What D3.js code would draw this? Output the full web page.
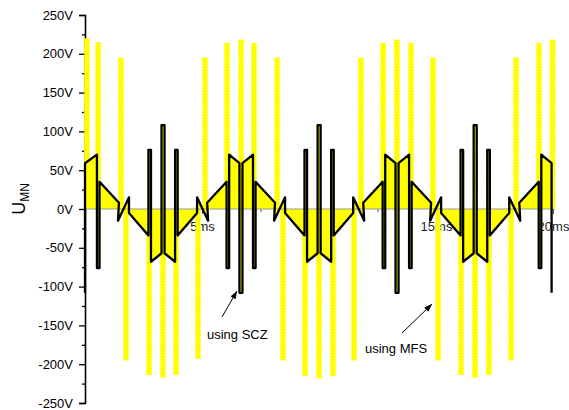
<!DOCTYPE html>
<html lang="en">
<head>
<meta charset="UTF-8">
<title>U_MN</title>
<style>
  body { margin: 0; background: #fff; }
  svg { display: block; font-family: Arial, "Liberation Sans", sans-serif; }
</style>
</head>
<body>
<div id="chart"></div>
<script src="https://cdn.jsdelivr.net/npm/d3@7/dist/d3.min.js"></script>
<script>
// SCZ waveform (black line): time in ms, voltage in V
const sczT = [0, 0,
  0.51, 0.51, 0.62, 0.62, 1.45, 1.41, 1.88, 1.88, 2.71, 2.71, 2.82, 2.82,
  3.27, 3.27, 3.40, 3.40, 3.85, 3.85, 3.96, 3.96, 4.79, 4.79, 5.26, 5.22,
  6.05, 6.05, 6.16, 6.16, 6.60, 6.60, 6.73, 6.73,
  7.18, 7.18, 7.29, 7.29, 8.12, 8.08, 8.55, 8.55, 9.38, 9.38, 9.49, 9.49,
  9.94, 9.94, 10.07, 10.07, 10.52, 10.52, 10.63, 10.63, 11.46, 11.46, 11.93, 11.89,
  12.72, 12.72, 12.83, 12.83, 13.27, 13.27, 13.40, 13.40,
  13.85, 13.85, 13.96, 13.96, 14.79, 14.75, 15.22, 15.22, 16.05, 16.05, 16.16, 16.16,
  16.61, 16.61, 16.74, 16.74, 17.19, 17.19, 17.30, 17.30, 18.13, 18.13, 18.60, 18.56,
  19.39, 19.39, 19.50, 19.50, 19.94, 19.94];
const sczV = [-108, 59,
  70, -76, -76, 35, 8, -15, 15, -5, -34, 76, 76, -68,
  -57, 108, 108, -57, -68, 76, 76, -34, -5, 15, -15, 8,
  35, -76, -76, 70, 59, -108, -108, 59,
  70, -76, -76, 35, 8, -15, 15, -5, -34, 76, 76, -68,
  -57, 108, 108, -57, -68, 76, 76, -34, -5, 15, -15, 8,
  35, -76, -76, 70, 59, -108, -108, 59,
  70, -76, -76, 35, 8, -15, 15, -5, -34, 76, 76, -68,
  -57, 108, 108, -57, -68, 76, 76, -34, -5, 15, -15, 8,
  35, -76, -76, 70, 59, -108];

// MFS pulses (yellow bars)
const mfsT = [0.08, 0.56, 1.54, 1.75, 2.74, 3.33, 3.89, 4.83,
  5.13, 6.07, 6.67, 7.22, 8.21, 8.46, 9.40, 10.0, 10.60, 11.50,
  11.79, 12.74, 13.33, 13.93, 14.87, 15.09, 16.07, 16.67, 17.26, 18.21,
  18.42, 19.40, 19.98];
const mfsV = [220, 215, 195, -195, -214, -217, -214, -193,
  195, 214, 218, 214, 195, -195, -215, -218, -215, -195,
  195, 214, 218, 214, 195, -195, -214, -217, -214, -195,
  195, 214, 218];

const yTicks = [-250, -200, -150, -100, -50, 0, 50, 100, 150, 200, 250];
const yMinor = [-225, -175, -125, -75, -25, 25, 75, 125, 175, 225];
const xTicks = [5, 10, 15, 20];
const xMinor = [2.5, 7.5, 12.5, 17.5];

const width = 569, height = 410;
const x = d3.scaleLinear().domain([0, 20]).range([85, 553]);
const y = d3.scaleLinear().domain([-250, 250]).range([403, 15]);

const svg = d3.select('#chart').append('svg')
  .attr('width', width).attr('height', height);

svg.append('defs').append('marker')
  .attr('id', 'arrow')
  .attr('viewBox', '0 0 8 6')
  .attr('refX', 8).attr('refY', 3)
  .attr('markerWidth', 8).attr('markerHeight', 6)
  .attr('markerUnits', 'userSpaceOnUse')
  .attr('orient', 'auto')
  .append('path').attr('d', 'M0,0 L8,3 L0,6 Z').attr('fill', '#000');

// y axis
const yAxis = svg.append('g')
  .attr('transform', `translate(${x(0)},0)`)
  .call(d3.axisLeft(y).tickValues(yTicks).tickSize(6).tickPadding(6)
    .tickFormat(d => d + 'V'));
yAxis.select('.domain').attr('stroke-width', 1.6);
yAxis.selectAll('.tick line').attr('stroke-width', 1.3);
yAxis.selectAll('text').attr('font-size', 13).attr('font-family', 'Arial, "Liberation Sans", sans-serif').attr('fill', '#000');

svg.append('g')
  .attr('transform', `translate(${x(0)},0)`)
  .call(d3.axisLeft(y).tickValues(yMinor).tickSize(3).tickFormat(''))
  .call(g => g.select('.domain').remove())
  .selectAll('.tick line').attr('stroke-width', 1.3);

// x axis labels (under the data, like the original)
const xAxis = svg.append('g')
  .attr('transform', `translate(0,${y(0)})`)
  .call(d3.axisBottom(x).tickValues(xTicks).tickSize(5).tickPadding(8)
    .tickFormat(d => d + 'ms'));
xAxis.select('.domain').remove();
xAxis.selectAll('.tick line').attr('stroke', '#555');
xAxis.selectAll('text').attr('font-size', 13).attr('font-family', 'Arial, "Liberation Sans", sans-serif').attr('fill', '#222');

svg.append('g')
  .attr('transform', `translate(0,${y(0)})`)
  .call(d3.axisBottom(x).tickValues(xMinor).tickSize(3).tickFormat(''))
  .call(g => g.select('.domain').remove())
  .selectAll('.tick line').attr('stroke', '#555');

const pts = sczT.map((t, i) => [t, sczV[i]]);

// yellow fill between SCZ curve and zero
svg.append('path')
  .datum(pts)
  .attr('fill', '#ffff00')
  .attr('d', d3.area().x(d => x(d[0])).y0(y(0)).y1(d => y(d[1])));

// MFS pulses
const bars = svg.append('g');
mfsT.forEach((t, i) => {
  bars.append('line')
    .attr('x1', x(t)).attr('x2', x(t))
    .attr('y1', y(0)).attr('y2', y(mfsV[i]))
    .attr('stroke', '#ffff00').attr('stroke-width', 4.6);
  bars.append('line')
    .attr('x1', x(t)).attr('x2', x(t))
    .attr('y1', y(0)).attr('y2', y(mfsV[i]))
    .attr('stroke', '#ffff00').attr('stroke-width', 6)
    .attr('stroke-dasharray', '1.5,1.5');
});

// zero line
svg.append('line')
  .attr('x1', x(0)).attr('x2', x(20))
  .attr('y1', y(0)).attr('y2', y(0))
  .attr('stroke', '#999').attr('stroke-width', 1.2);

// SCZ line
svg.append('path')
  .datum(pts)
  .attr('fill', 'none')
  .attr('stroke', '#000')
  .attr('stroke-width', 2.3)
  .attr('stroke-linejoin', 'round')
  .attr('d', d3.line().x(d => x(d[0])).y(d => y(d[1])));

// y title
const title = svg.append('text')
  .attr('transform', 'translate(25,199) rotate(-90)')
  .attr('text-anchor', 'middle')
  .attr('fill', '#000');
title.append('tspan').attr('font-size', 18).text('U');
title.append('tspan').attr('font-size', 12).attr('dy', 4).text('MN');

// annotations
svg.append('line')
  .attr('x1', 222).attr('y1', 317).attr('x2', 237).attr('y2', 291)
  .attr('stroke', '#000').attr('stroke-width', 1)
  .attr('marker-end', 'url(#arrow)');
svg.append('text').attr('x', 207).attr('y', 339).attr('font-size', 13).text('using SCZ');

svg.append('line')
  .attr('x1', 402).attr('y1', 333).attr('x2', 432).attr('y2', 304)
  .attr('stroke', '#000').attr('stroke-width', 1)
  .attr('marker-end', 'url(#arrow)');
svg.append('text').attr('x', 365).attr('y', 353).attr('font-size', 13).text('using MFS');
</script>
</body>
</html>
